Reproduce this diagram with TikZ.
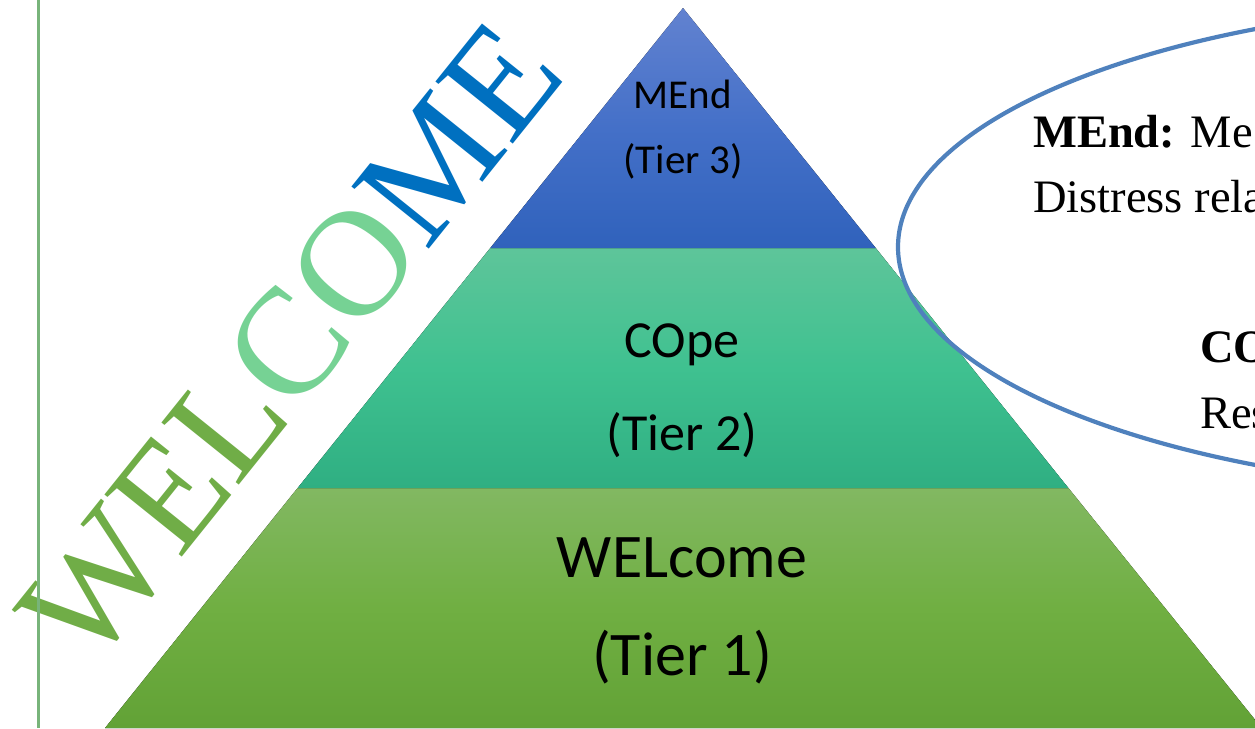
\documentclass[tikz,border=0pt]{standalone}
\usepackage{fontspec}
\setmainfont{Liberation Serif}
\newfontfamily\calibri{Carlito}
\definecolor{welgreen}{HTML}{70AD47}
\definecolor{colight}{HTML}{76D294}
\definecolor{meblue}{HTML}{0070C0}
\definecolor{vline}{HTML}{78B47A}
\definecolor{ellblue}{HTML}{4F81BD}
\definecolor{bluetop}{HTML}{6282D0}
\definecolor{bluemid}{HTML}{4470C8}
\definecolor{bluebot}{HTML}{3062BC}
\definecolor{tealtop}{HTML}{5EC59A}
\definecolor{tealmid}{HTML}{3FC190}
\definecolor{tealbot}{HTML}{2FAF82}
\definecolor{grtop}{HTML}{82B862}
\definecolor{grmid}{HTML}{70AF42}
\definecolor{grbot}{HTML}{62A236}
\tikzset{
  tierlabel/.style={inner sep=0pt, anchor=base, text=black},
  desc/.style={inner sep=0pt, anchor=base west, text=black, font=\fontsize{46.5}{46.5}\selectfont},
  bigword/.style={inner sep=0pt, anchor=base west, rotate=51.25, font=\fontsize{151.5}{151.5}\selectfont},
}
\begin{document}
\begin{tikzpicture}[x=1pt,y=-1pt]
\useasboundingbox (0,0) rectangle (1255,728);
\clip (0,0) rectangle (1255,728);
% pyramid corners
\coordinate (apex) at (683,8);
\coordinate (l1) at (490.3,248);
\coordinate (r1) at (875.7,248);
\coordinate (l2) at (297.6,488);
\coordinate (r2) at (1068.4,488);
\coordinate (l3) at (105,728);
\coordinate (r3) at (1261.7,728);
% tiers
\fill[top color=grtop, bottom color=grbot, middle color=grmid] (l2) -- (r2) -- (r3) -- (l3) -- cycle;
\fill[top color=tealtop, bottom color=tealbot, middle color=tealmid] (l1) -- (r1) -- (r2) -- (l2) -- cycle;
\fill[top color=bluetop, bottom color=bluebot, middle color=bluemid] (apex) -- (r1) -- (l1) -- cycle;
% tier labels
\node[tierlabel, font=\calibri\fontsize{41}{41}\selectfont] (m1) at (683,108) {MEnd};
\node[tierlabel, font=\calibri\fontsize{41}{41}\selectfont] (m2) at (683,173) {(Tier 3)};
\node[tierlabel, font=\calibri\fontsize{52}{52}\selectfont] (c1) at (682,357) {COpe};
\node[tierlabel, font=\calibri\fontsize{52}{52}\selectfont] (c2) at (682,450) {(Tier 2)};
\node[tierlabel, font=\calibri\fontsize{62}{62}\selectfont] (w1) at (682,577) {WELcome};
\node[tierlabel, font=\calibri\fontsize{62}{62}\selectfont] (w2) at (682,675) {(Tier 1)};
% WELCOME word art
\node[bigword] (welcome) at (89.4,672.4) {\textcolor{welgreen}{WEL}\textcolor{colight}{CO}\textcolor{meblue}{ME}};
% vertical rule
\coordinate (vtop) at (38.7,0);
\coordinate (vbot) at (38.7,728);
\draw[vline, line width=3.5pt] (vtop) -- (vbot);
% ellipse
\coordinate (ellc) at (1556,247);
\draw[ellblue, line width=4.2pt] (ellc) ellipse [x radius=658, y radius=245];
% description texts
\node[desc] (d1) at (1033,147) {\textbf{MEnd:} Me};
\node[desc] (d2) at (1033,212) {Distress rela};
\node[desc] (d3) at (1200,362) {\textbf{CO}};
\node[desc] (d4) at (1200,428) {Res};
\end{tikzpicture}
\end{document}
